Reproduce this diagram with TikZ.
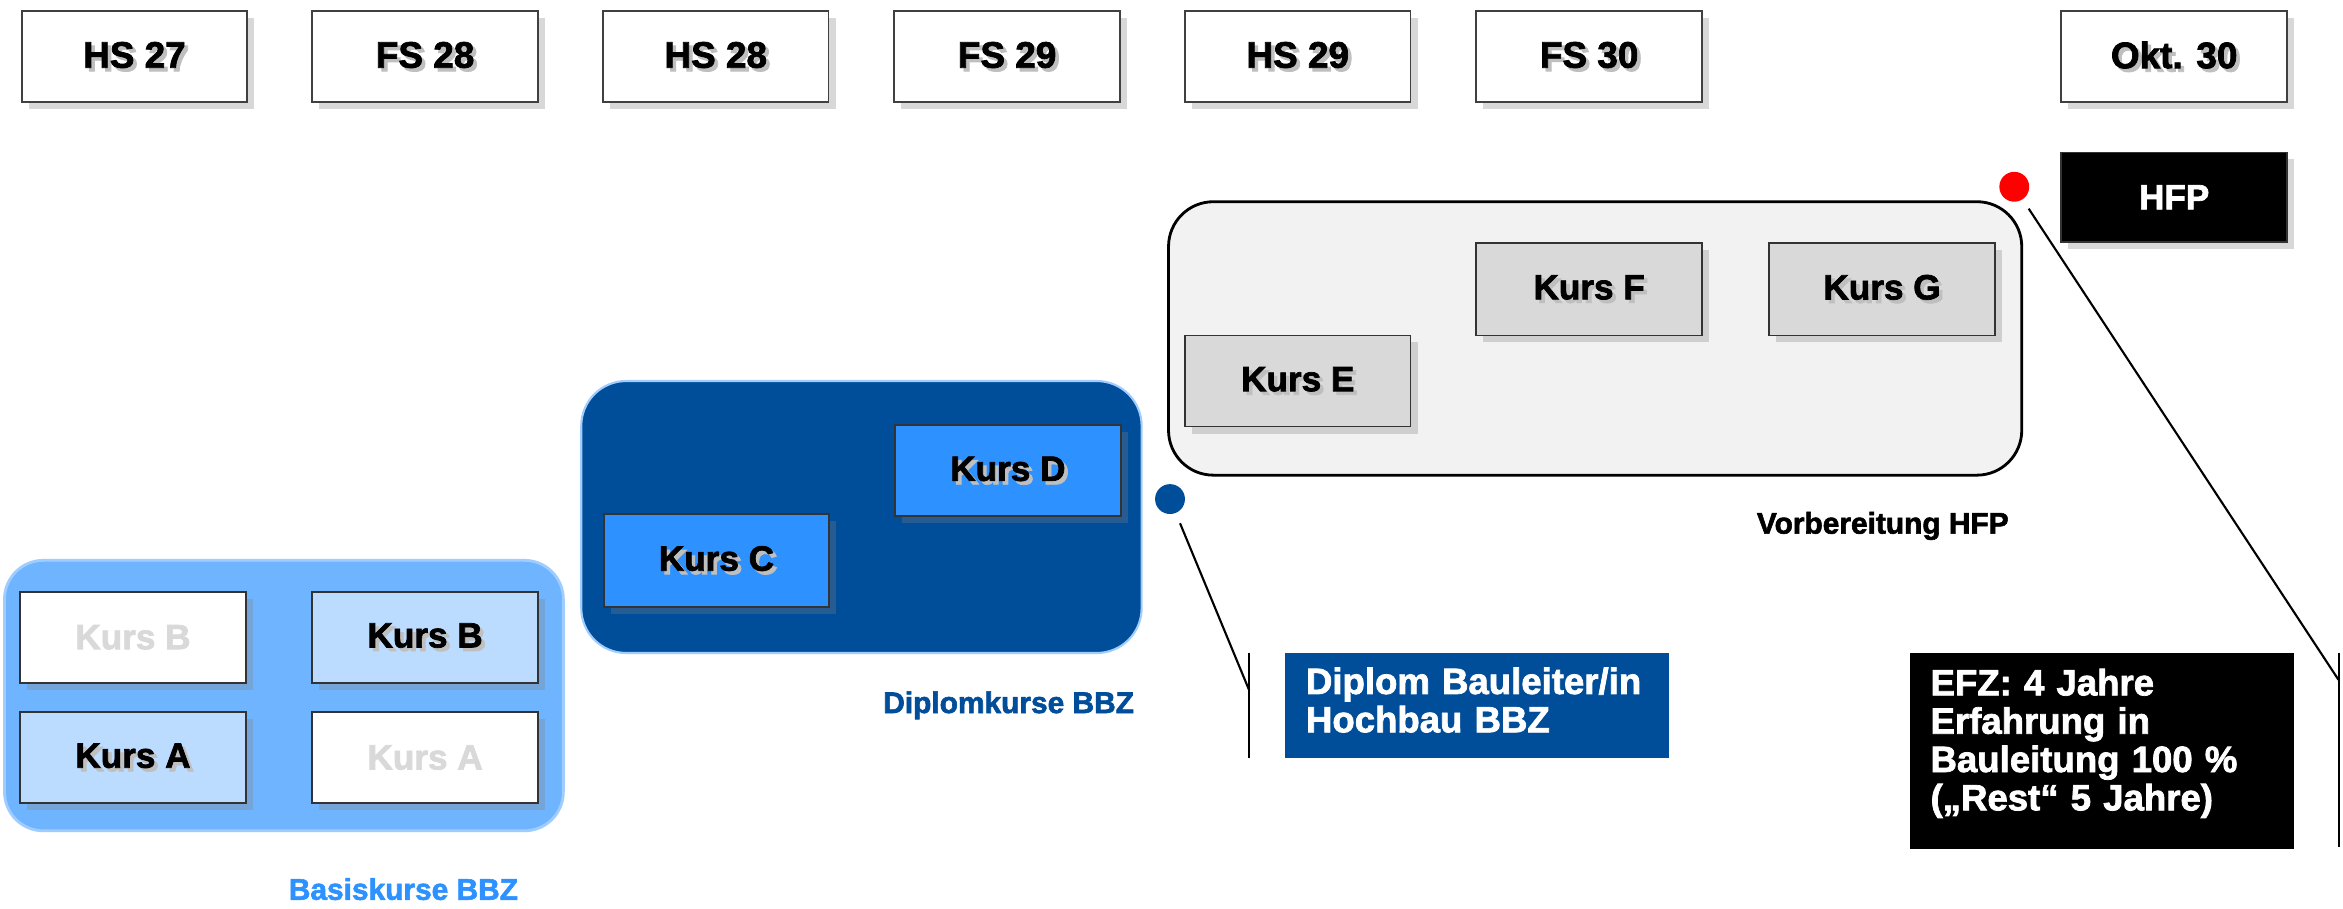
\documentclass[tikz,border=0pt]{standalone}
\usepackage{fontspec}
\setmainfont{Liberation Sans}
\newfontfamily\hvy{Liberation Sans}[UprightFont={* Bold}, FakeBold=2]
\usetikzlibrary{shadows}
\definecolor{basis}{RGB}{111,180,255}
\definecolor{basisrim}{RGB}{160,205,255}
\definecolor{lightk}{RGB}{187,220,255}
\definecolor{midblue}{RGB}{45,146,255}
\definecolor{darkblue}{RGB}{0,77,153}
\definecolor{ghost}{RGB}{217,217,217}
\definecolor{kgray}{RGB}{217,217,217}
\definecolor{pale}{RGB}{242,242,242}
\def\pxu{0.014943cm}
\newcommand{\shd}[1]{\makebox[0pt][l]{\hspace{1pt}\raisebox{-1pt}{\textcolor{black!25}{#1}}}#1}
\tikzset{
  boxshadow/.style={drop shadow={opacity=0.3, shadow xshift=2pt, shadow yshift=-2pt}},
  sem/.style={draw=black!75, line width=0.5pt, fill=white, minimum width=151*\pxu, minimum height=61*\pxu,
    inner sep=0pt, font=\fontsize{10.5}{12}\selectfont\hvy, boxshadow},
  kurs/.style={draw=black!80, line width=0.5pt, minimum width=151*\pxu, minimum height=61*\pxu,
    inner sep=0pt, font=\fontsize{10}{12}\selectfont\hvy, boxshadow},
  container/.style={rounded corners=30*\pxu, inner sep=0pt},
  grouplabel/.style={font=\fontsize{8.5}{10}\selectfont\hvy, inner sep=0pt},
  infobox/.style={inner sep=0pt, minimum width=257*\pxu},
  infotext/.style={align=left, inner sep=0pt, text width=229*\pxu,
    font=\fontsize{10.4}{10.9}\selectfont\hvy, text=white},
  dot/.style={circle, inner sep=0pt, minimum size=20*\pxu},
  callout/.style={line width=0.6pt, black}
}
\begin{document}
\begin{tikzpicture}[x=\pxu, y=-\pxu]
\useasboundingbox (0,0) rectangle (1568,608);
\fill[white] (0,0) rectangle (1568,608);

% semester headers
\node[sem] (hs27) at (90,38) {\shd{HS 27}};
\node[sem] (fs28) at (284.5,38) {\shd{FS 28}};
\node[sem] (hs28) at (479,38) {\shd{HS 28}};
\node[sem] (fs29) at (674,38) {\shd{FS 29}};
\node[sem] (hs29) at (868.5,38) {\shd{HS 29}};
\node[sem] (fs30) at (1063.5,38) {\shd{FS 30}};
\node[sem] (okt30) at (1455,38) {\shd{Okt. 30}};

% HFP
\node[kurs, fill=black, text=white, minimum height=60*\pxu] (hfp) at (1455,132) {HFP};

% Vorbereitung HFP
\node[container, draw=black, line width=0.8pt, fill=pale, minimum width=571*\pxu, minimum height=183*\pxu] (vorb) at (1067.5,226.5) {};
\node[kurs, fill=kgray] (ke) at (868.5,255) {\shd{Kurs E}};
\node[kurs, fill=kgray, minimum height=62*\pxu] (kf) at (1063.5,193.5) {\shd{Kurs F}};
\node[kurs, fill=kgray, minimum height=62*\pxu] (kg) at (1259.5,193.5) {\shd{Kurs G}};
\node[grouplabel] (vorblab) at (1260,352) {Vorbereitung HFP};

% Diplomkurse
\node[container, draw=basisrim, line width=0.6pt, fill=darkblue, minimum width=375*\pxu, minimum height=182*\pxu] (dipl) at (576.5,346) {};
\node[kurs, fill=midblue] (kd) at (674.5,315) {\shd{Kurs D}};
\node[kurs, fill=midblue, minimum height=62*\pxu] (kc) at (479.5,375) {\shd{Kurs C}};
\node[grouplabel, text=darkblue] (dipllab) at (675,472) {Diplomkurse BBZ};

% Basiskurse
\node[container, rounded corners=26*\pxu, draw=basisrim, line width=0.8pt, fill=basis, minimum width=374*\pxu, minimum height=181*\pxu] (basis) at (190,465.5) {};
\node[kurs, fill=white, text=ghost] (kb0) at (89,426.5) {Kurs B};
\node[kurs, fill=lightk] (kb) at (284.5,426.5) {\shd{Kurs B}};
\node[kurs, fill=lightk] (ka) at (89,507) {\shd{Kurs A}};
\node[kurs, fill=white, text=ghost] (ka0) at (284.5,507) {Kurs A};
\node[grouplabel, text=midblue] (basislab) at (270,595) {Basiskurse BBZ};

% Diplom info
\node[infobox, fill=darkblue, minimum height=70*\pxu,
  label={[infotext, yshift=3.5*\pxu]center:{Diplom Bauleiter/in\\Hochbau BBZ}}] (diplinfo) at (988.5,472) {};

% EFZ info
\node[infobox, fill=black, minimum height=131*\pxu,
  label={[infotext, yshift=5*\pxu]center:{EFZ: 4 Jahre\\Erfahrung in\\Bauleitung 100 \%\\(„Rest“ 5 Jahre)}}] (efz) at (1406.5,502.5) {};

% milestone dots and callouts
\node[dot, fill=darkblue] (bdot) at (783,334) {};
\node[dot, fill=red] (rdot) at (1348,125) {};
\coordinate (bjoin) at (836,462);
\coordinate (btop) at (836,437);
\coordinate (bbot) at (836,507);
\coordinate (rjoin) at (1565,455);
\coordinate (rtop) at (1565,437);
\coordinate (rbot) at (1565,567);
\draw[callout, shorten <=3pt] (bdot) -- (bjoin);
\draw[callout] (btop) -- (bbot);
\draw[callout, shorten <=3pt] (rdot) -- (rjoin);
\draw[callout] (rtop) -- (rbot);
\end{tikzpicture}
\end{document}
